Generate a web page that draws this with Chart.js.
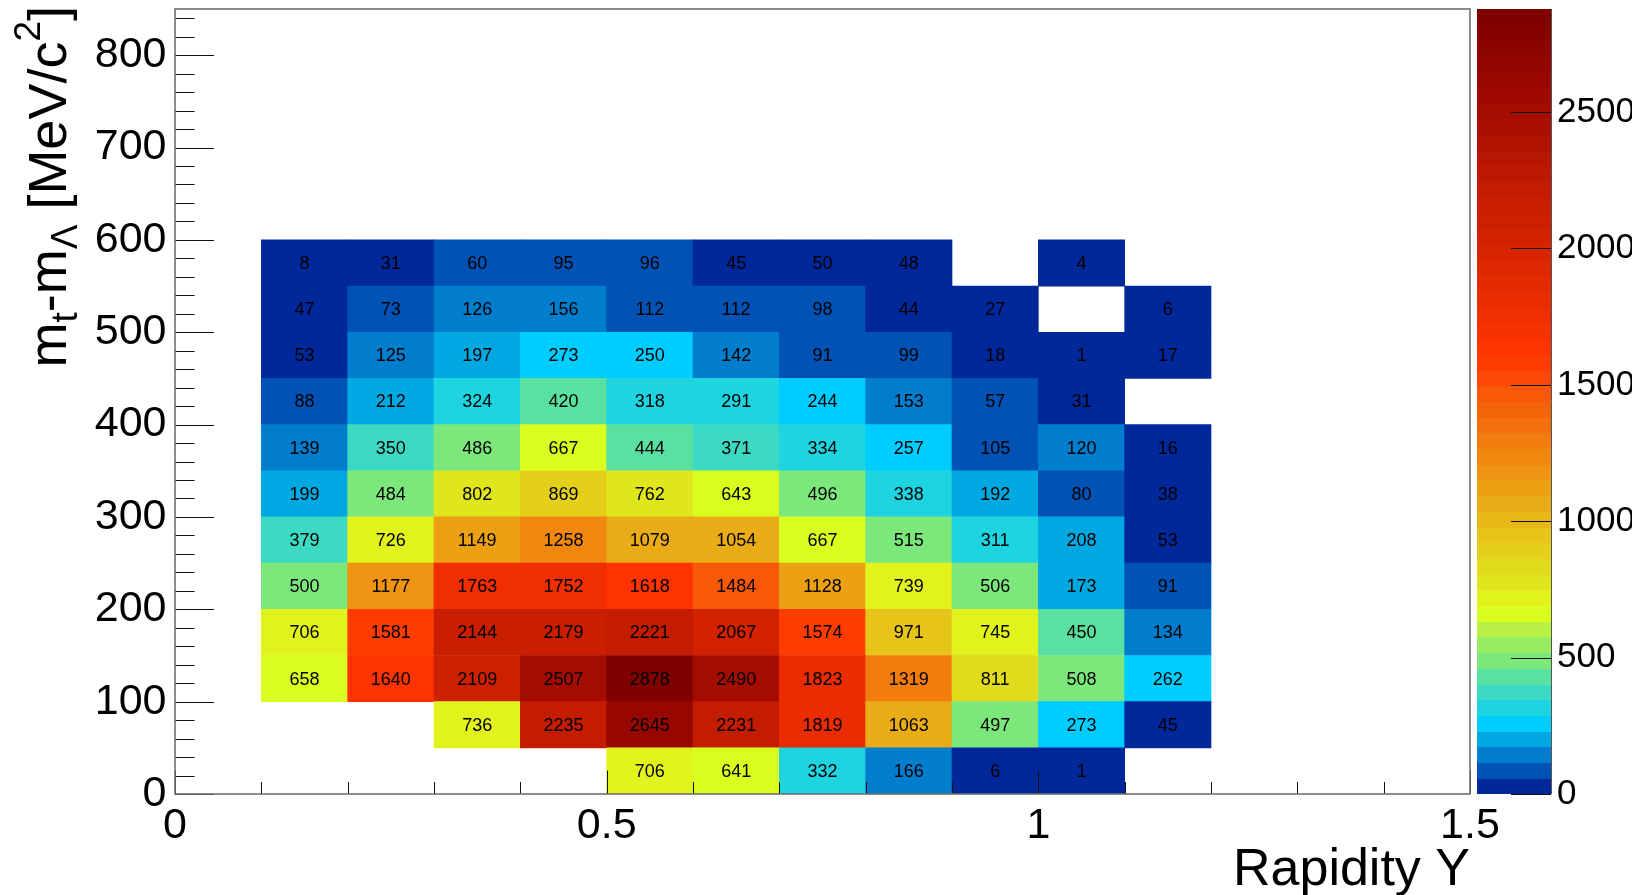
<!DOCTYPE html>
<html>
<head>
<meta charset="utf-8">
<script src="https://cdn.jsdelivr.net/npm/chart.js@4.4.1/dist/chart.umd.min.js"></script>
<style>
html,body{margin:0;padding:0;background:#fff;}
canvas{display:block;}
</style>
</head>
<body>
<canvas id="c" width="1652" height="895"></canvas>
<script>
// ---------- data ----------
const rapidityCenters = [0.15, 0.25, 0.35, 0.45, 0.55, 0.65, 0.75, 0.85, 0.95, 1.05, 1.15];
const mtBinLows = [0, 50, 100, 150, 200, 250, 300, 350, 400, 450, 500, 550];
const mtBinWidth = 50;

const counts_0_50    = [null, null, null, null, 706, 641, 332, 166, 6, 1, null];
const counts_50_100  = [null, null, 736, 2235, 2645, 2231, 1819, 1063, 497, 273, 45];
const counts_100_150 = [658, 1640, 2109, 2507, 2878, 2490, 1823, 1319, 811, 508, 262];
const counts_150_200 = [706, 1581, 2144, 2179, 2221, 2067, 1574, 971, 745, 450, 134];
const counts_200_250 = [500, 1177, 1763, 1752, 1618, 1484, 1128, 739, 506, 173, 91];
const counts_250_300 = [379, 726, 1149, 1258, 1079, 1054, 667, 515, 311, 208, 53];
const counts_300_350 = [199, 484, 802, 869, 762, 643, 496, 338, 192, 80, 38];
const counts_350_400 = [139, 350, 486, 667, 444, 371, 334, 257, 105, 120, 16];
const counts_400_450 = [88, 212, 324, 420, 318, 291, 244, 153, 57, 31, null];
const counts_450_500 = [53, 125, 197, 273, 250, 142, 91, 99, 18, 1, 17];
const counts_500_550 = [47, 73, 126, 156, 112, 112, 98, 44, 27, null, 6];
const counts_550_600 = [8, 31, 60, 95, 96, 45, 50, 48, null, 4, null];

const xTickValues = [0, 0.5, 1, 1.5];
const xTickLabels = ['0', '0.5', '1', '1.5'];
const yTickValues = [0, 100, 200, 300, 400, 500, 600, 700, 800];
const yTickLabels = ['0', '100', '200', '300', '400', '500', '600', '700', '800'];
const zTickValues = [0, 500, 1000, 1500, 2000, 2500];
const zTickLabels = ['0', '500', '1000', '1500', '2000', '2500'];

// ---------- palette (style) ----------
const paletteStops = [
  [0, '#00289B'], [1, '#0052B4'], [2, '#007DCD'], [3, '#00A8E1'], [4, '#00CDFF'],
  [5, '#1ED4E0'], [6, '#3CDAC3'], [7, '#5AE0A0'], [8, '#7CE87C'], [9, '#98EC62'],
  [10, '#B8F044'], [11, '#DAFF1E'], [12, '#E2F21C'], [13, '#E0E61C'], [16, '#E6C41A'],
  [19, '#ECA014'], [22, '#F27C0E'], [24, '#F6640A'], [25, '#F85808'], [26, '#FC4804'],
  [27, '#FF3C00'], [28, '#FF3300'], [30, '#F02E00'], [33, '#DE2800'], [35, '#D22200'],
  [38, '#C41C00'], [43, '#A40C00'], [45, '#980600'], [49, '#800000']
];
const nColors = 50;
function hexToRgb(h){ return [parseInt(h.substr(1,2),16), parseInt(h.substr(3,2),16), parseInt(h.substr(5,2),16)]; }
function buildPalette(){
  const out = [];
  for (let i = 0; i < nColors; i++) {
    let k = 0;
    while (k < paletteStops.length - 1 && paletteStops[k+1][0] < i) k++;
    const a = paletteStops[k], b = paletteStops[Math.min(k+1, paletteStops.length-1)];
    const ca = hexToRgb(a[1]), cb = hexToRgb(b[1]);
    const t = b[0] === a[0] ? 0 : (i - a[0]) / (b[0] - a[0]);
    const c = ca.map((v, j) => Math.round(v + (cb[j] - v) * Math.max(0, Math.min(1, t))));
    out.push(`rgb(${c[0]},${c[1]},${c[2]})`);
  }
  return out;
}
const palette = buildPalette();

const countRows = [counts_0_50, counts_50_100, counts_100_150, counts_150_200, counts_200_250,
  counts_250_300, counts_300_350, counts_350_400, counts_400_450, counts_450_500,
  counts_500_550, counts_550_600];
const zMax = Math.max(...countRows.flat().filter(v => v != null));
function colorFor(v){
  let idx = Math.floor(0.01 + v * nColors / zMax);
  if (idx > nColors - 1) idx = nColors - 1;
  if (idx < 0) idx = 0;
  return palette[idx];
}

const datasets = countRows.map((row, r) => ({
  label: mtBinLows[r] + '-' + (mtBinLows[r] + mtBinWidth),
  xAxisID: 'x', yAxisID: 'y',
  data: row.map((v, i) => v == null ? null : { x: rapidityCenters[i], y: [mtBinLows[r], mtBinLows[r] + mtBinWidth], v: v }).filter(Boolean),
  backgroundColor: (c) => colorFor(c.raw ? c.raw.v : 0),
  borderWidth: 0,
  barPercentage: 1,
  categoryPercentage: 1,
  grouped: false
}));

const FONT = '"Liberation Sans", Arial, Helvetica, sans-serif';

function zeroPad(s){ s.paddingTop = 0; s.paddingBottom = 0; s.paddingLeft = 0; s.paddingRight = 0; }

const rootPlugin = {
  id: 'rootStyle',
  afterDatasetsDraw(chart) {
    const ctx = chart.ctx;
    ctx.save();
    ctx.font = '18px ' + FONT;
    ctx.fillStyle = '#000';
    ctx.textAlign = 'center';
    ctx.textBaseline = 'middle';
    chart.data.datasets.forEach((ds, di) => {
      const meta = chart.getDatasetMeta(di);
      meta.data.forEach((el, i) => {
        const p = el.getProps(['x', 'y', 'base'], true);
        ctx.fillText(String(ds.data[i].v), p.x, (p.y + p.base) / 2 + 1);
      });
    });
    ctx.restore();
  },
  afterDraw(chart) {
    const ctx = chart.ctx;
    const a = chart.chartArea;
    const xs = chart.scales.x, ys = chart.scales.y, zs = chart.scales.z;
    ctx.save();
    // ticks (inward)
    ctx.strokeStyle = '#111';
    ctx.lineWidth = 1;
    ctx.beginPath();
    for (let k = 0; k <= 42; k++) {
      const v = k * 20;
      const py = Math.round(ys.getPixelForValue(v)) + 0.5;
      const len = (v % 100 === 0) ? 39 : 19.5;
      ctx.moveTo(a.left, py); ctx.lineTo(a.left + len, py);
    }
    for (let k = 0; k <= 15; k++) {
      const v = k / 10;
      const px = Math.round(xs.getPixelForValue(v)) + 0.5;
      const len = (k % 5 === 0) ? 23.5 : 12;
      ctx.moveTo(px, a.bottom); ctx.lineTo(px, a.bottom - len);
    }
    ctx.stroke();
    // frame
    ctx.strokeStyle = '#707070';
    ctx.lineWidth = 1.6;
    ctx.strokeRect(a.left, a.top, a.right - a.left, a.bottom - a.top);

    // colour bar
    const cbL = 1477, cbR = 1551;
    for (let i = 0; i < nColors; i++) {
      const y0 = zs.getPixelForValue(i * zMax / nColors);
      const y1 = zs.getPixelForValue((i + 1) * zMax / nColors);
      ctx.fillStyle = palette[i];
      ctx.fillRect(cbL, Math.floor(y1), cbR - cbL, Math.ceil(y0) - Math.floor(y1));
    }
    ctx.strokeStyle = '#111';
    ctx.lineWidth = 1;
    ctx.beginPath();
    zTickValues.forEach(v => {
      const py = Math.round(zs.getPixelForValue(v)) + 0.5;
      ctx.moveTo(cbR - 40, py); ctx.lineTo(cbR, py);
    });
    ctx.stroke();
    ctx.strokeStyle = '#555';
    ctx.beginPath();
    ctx.moveTo(cbR + 0.5, zs.top); ctx.lineTo(cbR + 0.5, zs.bottom);
    ctx.stroke();
    // pad edge: the palette labels are cut at the pad border as in the original
    ctx.fillStyle = '#fff';
    ctx.fillRect(1632, 0, chart.width - 1632, chart.height);

    // y-axis title with sub/superscripts
    const segs = [
      { t: 'm', s: 54, dy: 0 }, { t: 't', s: 37, dy: 11 }, { t: '-m', s: 54, dy: 0 },
      { t: 'Λ', s: 37, dy: 11 }, { t: ' [MeV/c', s: 54, dy: 0 }, { t: '2', s: 37, dy: -26 },
      { t: ']', s: 54, dy: 0 }
    ];
    let total = 0;
    segs.forEach(sg => { ctx.font = sg.s + 'px ' + FONT; sg.w = ctx.measureText(sg.t).width; total += sg.w; });
    ctx.translate(66, 6);
    ctx.rotate(-Math.PI / 2);
    ctx.fillStyle = '#000';
    ctx.textAlign = 'left';
    ctx.textBaseline = 'alphabetic';
    let x = -total;
    segs.forEach(sg => { ctx.font = sg.s + 'px ' + FONT; ctx.fillText(sg.t, x, sg.dy); x += sg.w; });
    ctx.restore();
  }
};

new Chart(document.getElementById('c'), {
  type: 'bar',
  data: { datasets: datasets },
  options: {
    responsive: false,
    animation: false,
    devicePixelRatio: 1,
    layout: { padding: { top: 9, left: 0, right: 0, bottom: 0 } },
    plugins: { legend: { display: false }, tooltip: { enabled: false } },
    scales: {
      x: {
        type: 'linear', position: 'bottom', min: 0, max: 1.5, offset: false,
        grid: { display: false, drawTicks: false }, border: { display: false },
        afterBuildTicks: s => { s.ticks = xTickValues.map(v => ({ value: v })); },
        afterFit: s => { s.height = 101; zeroPad(s); },
        ticks: {
          callback: (v, i) => xTickLabels[i], color: '#000', padding: 6, maxRotation: 0, autoSkip: false,
          font: { family: FONT, size: 43, lineHeight: 1.2 }
        },
        title: {
          display: true, text: 'Rapidity Y', align: 'end', color: '#000',
          font: { family: FONT, size: 52, lineHeight: 0.75 }, padding: { top: 0, bottom: 4.5 }
        }
      },
      y: {
        type: 'linear', position: 'left', min: 0, max: 850,
        grid: { display: false, drawTicks: false }, border: { display: false },
        afterBuildTicks: s => { s.ticks = yTickValues.map(v => ({ value: v })); },
        afterFit: s => { s.width = 175; zeroPad(s); },
        ticks: {
          callback: (v, i) => yTickLabels[i], color: '#000', padding: 8.5, autoSkip: false,
          font: { family: FONT, size: 43 }
        }
      },
      z: {
        type: 'linear', position: 'right', axis: 'y', min: 0, max: zMax,
        grid: { display: false, drawTicks: false }, border: { display: false },
        afterBuildTicks: s => { s.ticks = zTickValues.map(v => ({ value: v })); },
        afterFit: s => { s.width = 182; zeroPad(s); },
        ticks: {
          callback: (v, i) => zTickLabels[i], color: '#000', padding: 87, autoSkip: false,
          font: { family: FONT, size: 35 }
        }
      }
    }
  },
  plugins: [rootPlugin]
});
</script>
</body>
</html>
